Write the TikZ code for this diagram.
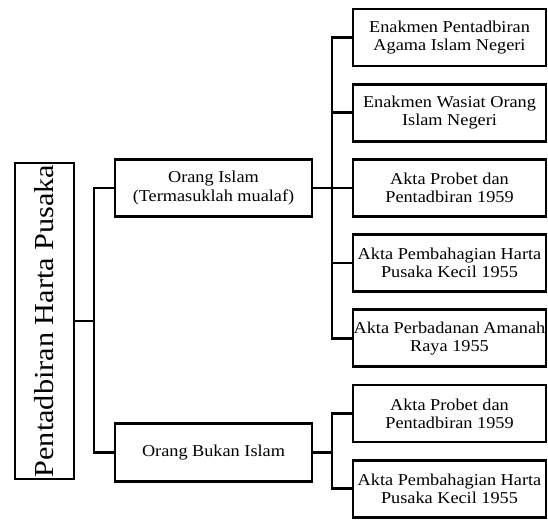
\documentclass[tikz,border=0pt]{standalone}
\usepackage{fontspec}
\setmainfont{Liberation Serif}[FakeStretch=1.1]
\usetikzlibrary{calc,positioning}
\tikzset{
    auto,node distance =15.5pt and 40pt,semithick,
    box/.style ={rectangle, draw, line width=2.7pt, inner sep=0pt, align=center, font=\fontsize{16.6}{18.3}\selectfont},
    rootbox/.style ={rectangle, draw, line width=2.7pt, inner sep=0pt, minimum width=59pt, minimum height=316pt, font=\fontsize{27.5}{30}\selectfont},
    group/.style ={box, minimum width=197pt, minimum height=57.5pt},
    act/.style ={box, minimum width=193pt, minimum height=57pt},
    branch/.style={line width=2.7pt}
}
\begin{document}
\begin{tikzpicture}[x=1pt,y=-1pt]
\useasboundingbox (0,0) rectangle (548,520);
\node [rootbox] (PHP) at (44.5,321) {\rotatebox{90}{Pentadbiran Harta Pusaka}};
\node [group] (OI) at (213.5,188) {Orang Islam\\(Termasuklah mualaf)};
\node [group] (OBI) at (213.5,452.5) {Orang Bukan Islam};
\node [act] (EPA) at (449.5,37.5) {Enakmen Pentadbiran\\Agama Islam Negeri};
\node [act] (EWO) [below=of EPA] {Enakmen Wasiat Orang\\Islam Negeri};
\node [act] (APP) [below=of EWO] {Akta Probet dan\\Pentadbiran 1959};
\node [act] (APH) [below=of APP] {Akta Pembahagian Harta\\Pusaka Kecil 1955};
\node [act] (APA) [below=of APH] {Akta Perbadanan Amanah\\Raya 1955};
\node [act] (APP2) [below=of APA] {Akta Probet dan\\Pentadbiran 1959};
\node [act] (APH2) [below=of APP2] {Akta Pembahagian Harta\\Pusaka Kecil 1955};
\draw [branch] (PHP.east) -- ++(18.5,0) coordinate (j1);
\foreach \g in {OI, OBI}
\draw [branch] (j1) |- (\g.west);
\draw [branch] (OI.east) -- ++(18.5,0) coordinate (j2);
\foreach \a in {EPA, EWO, APP, APH, APA}
\draw [branch] (j2) |- (\a.west);
\draw [branch] (OBI.east) -- ++(18.5,0) coordinate (j3);
\foreach \b in {APP2, APH2}
\draw [branch] (j3) |- (\b.west);
\end{tikzpicture}
\end{document}
